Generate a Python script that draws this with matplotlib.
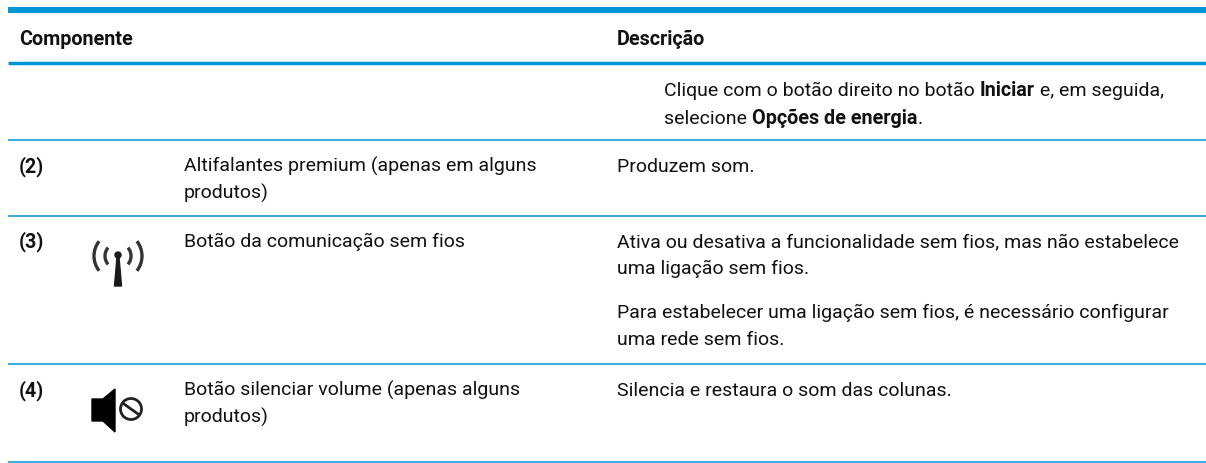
import matplotlib
matplotlib.use('Agg')
import matplotlib.pyplot as plt
from matplotlib.patches import Polygon, Circle, Arc

BLUE = '#0096d6'
INK = '#111111'
FONT = ['Roboto', 'Liberation Sans', 'DejaVu Sans']
SIZE = 14.0
BOLD_SIZE = 14.2

headers = ['Componente', 'Descrição']
row_ids = ['(2)', '(3)', '(4)']
components = [
    ['Altifalantes premium (apenas em alguns', 'produtos)'],
    ['Botão da comunicação sem fios'],
    ['Botão silenciar volume (apenas alguns', 'produtos)'],
]
first_desc = [
    [('Clique com o botão direito no botão ', False), ('Iniciar', True), (' e, em seguida,', False)],
    [('selecione ', False), ('Opções de energia', True), ('.', False)],
]
descriptions = [
    [('Produzem som.', 172)],
    [('Ativa ou desativa a funcionalidade sem fios, mas não estabelece', 247), ('uma ligação sem fios.', 274),
     ('Para estabelecer uma ligação sem fios, é necessário configurar', 318), ('uma rede sem fios.', 345)],
    [('Silencia e restaura o som das colunas.', 396)],
]

fig = plt.figure(figsize=(12.06, 4.64), dpi=100)
ax = fig.add_axes([0, 0, 1, 1])
ax.set_xlim(0, 1206)
ax.set_ylim(464, 0)
ax.axis('off')


def put(x, y, s, bold=False):
    return ax.text(x, y, s, family=FONT, fontsize=BOLD_SIZE if bold else SIZE, color=INK, va='baseline',
                   fontweight='bold' if bold else 'normal')


def put_runs(x, y, runs):
    rend = fig.canvas.get_renderer()
    for s, bold in runs:
        t = put(x, y, s, bold)
        x += t.get_window_extent(rend).width
    return x


# rules
ax.plot([7.5, 1206], [11, 11], color=BLUE, lw=4.3, solid_capstyle='butt')
ax.plot([7.5, 1206], [63.5, 63.5], color=BLUE, lw=2.5, solid_capstyle='butt')
for y in [140.5, 217, 364.5, 463]:
    ax.plot([7.5, 1206], [y, y], color=BLUE, lw=1.1, solid_capstyle='butt')

# header
put(19, 45, headers[0], True)
put(617, 45, headers[1], True)

# first row, carried over from the previous page
put_runs(664, 96.5, first_desc[0])
put_runs(664, 123.5, first_desc[1])

row_y = [172, 247, 396]
for i in range(3):
    put(19, row_y[i], row_ids[i], True)
    for k, line in enumerate(components[i]):
        put(184, row_y[i] + k * 27, line)
    for line, y in descriptions[i]:
        put(617, y, line)

# wireless icon
ax.add_patch(Polygon([[117, 258], [119, 258], [121.5, 287], [114.5, 287]], color='#1a1a1a'))
ax.add_patch(Circle((118, 256), 3, color='#1a1a1a'))
for d, ang in [(26, 40), (48, 38)]:
    ax.add_patch(Arc((118, 257), d, d, theta1=180 - ang, theta2=180 + ang, color='#333333', lw=2.4))
    ax.add_patch(Arc((118, 257), d, d, theta1=-ang, theta2=ang, color='#333333', lw=2.4))

# mute icon
ax.add_patch(Polygon([[92, 400], [103, 400], [115, 390], [115, 433], [103, 422], [92, 422]], color='black'))
ax.add_patch(Circle((131, 410), 10.5, fill=False, ec='#222222', lw=2))
ax.plot([124, 138], [405, 415], color='#222222', lw=2)

fig.savefig('out.png', dpi=100)
